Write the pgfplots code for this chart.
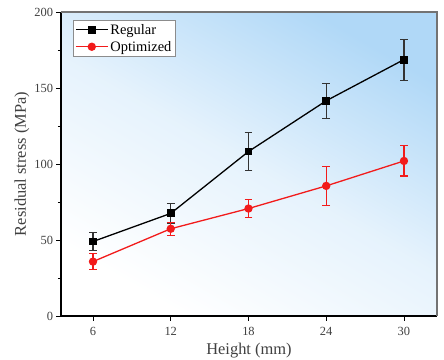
\documentclass[border=0pt]{standalone}
\usepackage{pgfplots}
\pgfplotsset{compat=1.18}
\usepackage{fontspec}
\setmainfont{Liberation Serif}
\definecolor{skyb}{HTML}{B0D8F7}
\definecolor{optred}{HTML}{F21B1B}
\begin{document}
\begin{tikzpicture}[x=1bp,y=1bp]
\useasboundingbox (-61bp,-44bp) rectangle (383bp,316bp);
\begin{axis}[
  at={(0,0)}, anchor=south west,
  scale only axis, width=376bp, height=304bp,
  xmin=3.53, xmax=32.55, ymin=0, ymax=200,
  xtick={6,12,18,24,30},
  ytick={0,50,100,150,200},
  minor ytick={25,75,125,175},
  tick align=outside,
  major tick length=4.5bp, minor tick length=3bp,
  xtick pos=bottom, ytick pos=left,
  tick style={black, line width=0.9bp},
  axis line style={draw=none},
  /pgf/number format/assume math mode=true,
  ticklabel style={font=\fontsize{12.5}{14}\selectfont, text=black!75},
  xticklabel style={yshift=-3bp},
  xlabel={Height (mm)}, ylabel={Residual stress (MPa)},
  label style={font=\fontsize{16.5}{18}\selectfont, text=black!75},
  xlabel style={yshift=-1bp},
  ylabel style={yshift=-2bp},
  axis background/.style={shade, shading=axis, top color=skyb, bottom color=white, middle color=skyb!32, shading angle=-30},
  legend style={at={(0.032,0.974)}, anchor=north west, draw=black!45, line width=0.6bp, fill=white, font=\fontsize{14.5}{15}\selectfont, row sep=1.5bp, inner sep=1.8bp},
  legend cell align=left,
  legend image code/.code={\draw[#1] (0bp,0bp) -- (32bp,0bp); \draw[#1,mark repeat=1] plot coordinates {(16bp,0bp)};},
  clip=false,
]
\addplot+[black, line width=1.3bp, mark=square*, mark size=3.3bp, mark options={fill=black,solid},
  error bars/.cd, y dir=both, y explicit,
  error bar style={line width=1.1bp, black!80},
  error mark options={rotate=90, mark size=3.8bp, line width=1.1bp, black!80}]
coordinates {
(6,49) +- (0,6)
(12,67.5) +- (0,6.5)
(18,108.2) +- (0,12.4)
(24,141.6) +- (0,11.5)
(30,168.7) +- (0,13.5)
};
\addlegendentry{Regular}
\addplot+[optred, line width=1.3bp, mark=*, mark size=3.5bp, mark options={fill=optred,solid},
  error bars/.cd, y dir=both, y explicit,
  error bar style={line width=1.1bp, optred},
  error mark options={rotate=90, mark size=3.8bp, line width=1.1bp, optred}]
coordinates {
(6,35.8) +- (0,5.2)
(12,57.4) +- (0,4.4)
(18,70.7) +- (0,6.1)
(24,85.6) +- (0,13)
(30,102) +- (0,9.9)
};
\addlegendentry{Optimized}
\draw[black, line width=1.3bp] (rel axis cs:0,1) -- (rel axis cs:0,0) -- (rel axis cs:1,0);
\draw[black!55, line width=1.2bp] (rel axis cs:0,1) -- (rel axis cs:1,1) -- (rel axis cs:1,0);
\end{axis}
\end{tikzpicture}
\end{document}
